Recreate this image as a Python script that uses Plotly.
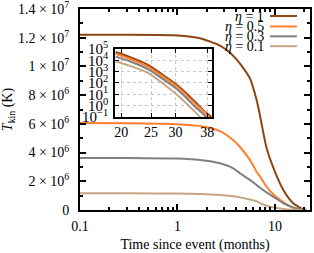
import plotly.graph_objects as go

# ---- main panel data (time in months, T_kin in K) ----
t_main = [0.1, 0.3, 1.0, 1.7, 2.73, 3.73, 4.38, 5.54, 6.49, 7.02, 8.22, 10.0, 12.2, 15.4, 19.5, 21.0]
T_eta1 = [12.2e6, 12.2e6, 12.15e6, 11.96e6, 11.45e6, 10.75e6, 10.2e6, 9.17e6, 7.66e6, 6.6e6, 4.3e6, 2.67e6, 1.39e6, 0.47e6, 0.05e6, 0]
T_eta05 = [6.06e6, 6.05e6, 5.98e6, 5.85e6, 5.5e6, 4.87e6, 4.39e6, 3.49e6, 2.67e6, 2.35e6, 1.62e6, 1.0e6, 0.56e6, 0.15e6, 0.02e6, 0]
T_eta03 = [3.62e6, 3.62e6, 3.58e6, 3.48e6, 3.25e6, 2.9e6, 2.56e6, 2.1e6, 1.74e6, 1.55e6, 1.23e6, 0.85e6, 0.47e6, 0.18e6, 0.03e6, 0]
T_eta01 = [1.16e6, 1.16e6, 1.15e6, 1.11e6, 1.04e6, 0.95e6, 0.88e6, 0.73e6, 0.6e6, 0.48e6, 0.3e6, 0.15e6, 0.07e6, 0.02e6, 0.005e6, 0]

# ---- inset data ----
t_inset = [19.2, 21.4, 24.5, 27.2, 30.4, 32.5, 34.7, 36.9, 39.2]
I_eta1 = [5.4e4, 1.9e4, 3.8e3, 5.6e2, 63, 12.6, 2.2, 0.4, 0.1]
I_eta05 = [3.8e4, 1.3e4, 2.7e3, 4.0e2, 46, 8.9, 1.55, 0.35, 0.05]
I_eta03 = [2.1e4, 7.9e3, 1.6e3, 2.4e2, 27, 5.0, 0.79, 0.18, 0.025]
I_eta01 = [8.3e3, 3.2e3, 7.4e2, 1.0e2, 8.5, 1.6, 0.28, 0.05, 0.01]

labels = ["<i>η</i> = 1", "<i>η</i> = 0.5", "<i>η</i> = 0.3", "<i>η</i> = 0.1"]
colors = ["#8B4513", "#FF7F2A", "#808080", "#C8A582"]

y_tickvals = [0, 2e6, 4e6, 6e6, 8e6, 1e7, 1.2e7, 1.4e7]
y_ticktext = ["0", "2 × 10<sup>6</sup>", "4 × 10<sup>6</sup>", "6 × 10<sup>6</sup>",
              "8 × 10<sup>6</sup>", "1 × 10<sup>7</sup>", "1.2 × 10<sup>7</sup>", "1.4 × 10<sup>7</sup>"]
x_tickvals = [0.1, 1, 10]
x_ticktext = ["0.1", "1", "10"]
x_minor = [0.2, 0.3, 0.4, 0.5, 0.6, 0.7, 0.8, 0.9, 2, 3, 4, 5, 6, 7, 8, 9, 20]

ins_x_tickvals = [20, 25, 30, 38]
ins_y_tickvals = [0.1, 1, 10, 100, 1e3, 1e4, 1e5]
ins_y_ticktext = ["10<sup>−1</sup>", "10<sup>0</sup>", "10<sup>1</sup>", "10<sup>2</sup>",
                  "10<sup>3</sup>", "10<sup>4</sup>", "10<sup>5</sup>"]

FONT = "Liberation Serif"

fig = go.Figure()
main_series = [T_eta1, T_eta05, T_eta03, T_eta01]
inset_series = [I_eta1, I_eta05, I_eta03, I_eta01]
for ys, c, lab in zip(main_series, colors, labels):
    fig.add_trace(go.Scatter(x=t_main, y=ys, mode="lines", line=dict(color=c, width=2, shape="spline", smoothing=0.6),
                             name=lab, showlegend=False, xaxis="x", yaxis="y"))
for ys, c, lab in zip(inset_series, colors, labels):
    fig.add_trace(go.Scatter(x=t_inset, y=ys, mode="lines", line=dict(color=c, width=2, shape="spline", smoothing=0.6),
                             name=lab, showlegend=False, xaxis="x2", yaxis="y2"))

# manual legend (text right, sample line to the right)
leg_y = [0.965, 0.913, 0.864, 0.815]
for lab, c, yy in zip(labels, colors, leg_y):
    fig.add_annotation(xref="paper", yref="paper", x=0.81, y=yy, text=lab, showarrow=False,
                       xanchor="right", yanchor="middle", font=dict(family=FONT, size=14, color="black"))
    fig.add_shape(type="line", xref="paper", yref="paper", x0=0.826, x1=0.943, y0=yy, y1=yy,
                  line=dict(color=c, width=2))

axis_common = dict(showline=True, linecolor="black", mirror="ticks", ticks="inside", tickcolor="black",
                   zeroline=False, automargin=False, ticklabeloverflow="allow",
                   tickfont=dict(family=FONT, size=14, color="black"))

fig.update_layout(
    width=314, height=253,
    margin=dict(l=80, r=4, t=9, b=43),
    paper_bgcolor="white", plot_bgcolor="white",
    font=dict(family=FONT, size=14, color="black"),
    hovermode=False,
    xaxis=dict(type="log", range=[-1, 1.36], tickvals=x_tickvals, ticktext=x_ticktext, ticklen=6, tickwidth=1.5,
               linewidth=2, showgrid=False,
               minor=dict(tickvals=x_minor, ticks="inside", ticklen=3, tickcolor="black", showgrid=False),
               title=dict(text="Time since event (months)", font=dict(family=FONT, size=14), standoff=6),
               ticklabelstandoff=2, **axis_common),
    yaxis=dict(range=[0, 1.4e7], tickvals=y_tickvals, ticktext=y_ticktext, ticklen=6, tickwidth=1.5,
               linewidth=2, showgrid=False,
               minor=dict(dtick=1e6, ticks="inside", ticklen=3, tickcolor="black", showgrid=False),
               title=dict(text="<i>T</i><sub>kin</sub> (K)", font=dict(family=FONT, size=14), standoff=6),
               ticklabelstandoff=6, **axis_common),
    xaxis2=dict(type="log", domain=[0.152, 0.574], anchor="y2", range=[1.281, 1.5955],
                tickvals=ins_x_tickvals, ticktext=[str(v) for v in ins_x_tickvals], ticklen=4,
                linewidth=1.5, showgrid=True, gridcolor="#c8c8c8", griddash="dot", gridwidth=1,
                ticklabelstandoff=2, **axis_common),
    yaxis2=dict(type="log", domain=[0.463, 0.801], anchor="x2", range=[-1, 5],
                tickvals=ins_y_tickvals, ticktext=ins_y_ticktext, ticklen=4,
                linewidth=1.5, showgrid=True, gridcolor="#c8c8c8", griddash="dot", gridwidth=1,
                ticklabelstandoff=2, **axis_common),
)
fig.update_layout(yaxis2_tickfont=dict(family=FONT, size=15, color="black"))

fig.write_html("out.html", config={"displayModeBar": False},
               post_script="document.body.style.margin='0px';")
